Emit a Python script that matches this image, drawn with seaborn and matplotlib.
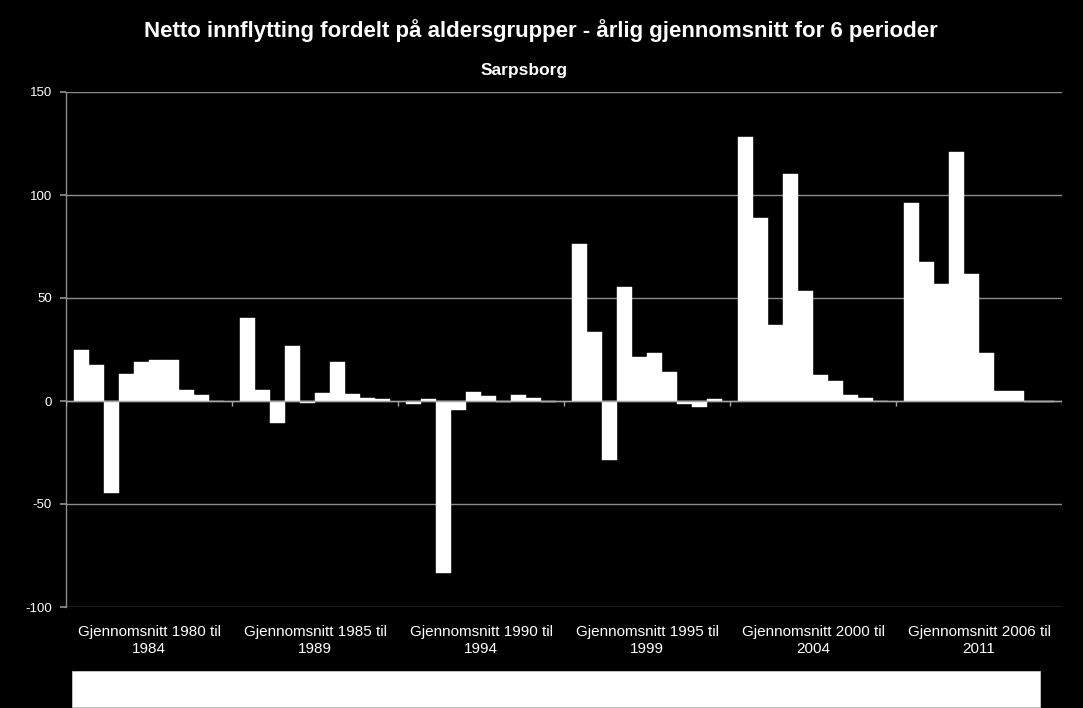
import matplotlib
matplotlib.use("Agg")
import matplotlib.pyplot as plt
from matplotlib.patches import Rectangle
import seaborn as sns
import pandas as pd
import numpy as np

periods = ["Gjennomsnitt 1980 til\n1984", "Gjennomsnitt 1985 til\n1989",
           "Gjennomsnitt 1990 til\n1994", "Gjennomsnitt 1995 til\n1999",
           "Gjennomsnitt 2000 til\n2004", "Gjennomsnitt 2006 til\n2011"]
age_groups = ["0-5 år", "6-15 år", "16-19 år", "20-24 år", "25-29 år",
              "30-39 år", "40-49 år", "50-59 år", "60-69 år", "70 år +"]

v_1980 = [25.0, 17.6, -44.7, 12.9, 18.7, 19.8, 19.8, 5.5, 2.7, 0.0]
v_1985 = [40.3, 5.3, -10.7, 26.6, -1.1, 4.0, 19.0, 3.2, 1.6, 0.8]
v_1990 = [-1.6, 0.8, -83.5, -4.5, 4.4, 2.3, -0.5, 2.7, 1.6, -0.5]
v_1995 = [76.0, 33.5, -28.6, 55.3, 21.6, 23.2, 14.2, -1.6, -2.7, 0.8]
v_2000 = [128.2, 88.7, 37.1, 110.3, 53.4, 12.7, 9.8, 3.1, 1.6, 0.0]
v_2006 = [96.0, 67.7, 56.8, 121.1, 61.6, 23.5, 4.7, 5.0, -0.5, -0.5]

yticks = [-100, -50, 0, 50, 100, 150]

series = [v_1980, v_1985, v_1990, v_1995, v_2000, v_2006]
rows = []
for p, vals in zip(periods, series):
    for a, v in zip(age_groups, vals):
        rows.append({"periode": p, "alder": a, "netto": v})
df = pd.DataFrame(rows)

sns.set_theme(style="dark")
plt.rcParams["font.family"] = ["Liberation Sans", "DejaVu Sans"]

fig = plt.figure(figsize=(10.83, 7.08), dpi=100, facecolor="black")
ax = fig.add_axes([66 / 1083, 1 - 607 / 708, (1062 - 66) / 1083, (607 - 92) / 708])
ax.set_facecolor("black")

sns.barplot(data=df, x="periode", y="netto", hue="alder", order=periods,
            hue_order=age_groups, palette=["white"] * len(age_groups),
            width=10 / 11, gap=0, saturation=1, legend=False, ax=ax,
            edgecolor="white", linewidth=0.3)

ax.set_ylim(-100, 150)
ax.set_yticks(yticks)
ax.set_yticklabels([str(t) for t in yticks], color="white", fontsize=9.5)
ax.set_xlim(-0.5, len(periods) - 0.5)
ax.set_xticks(range(len(periods)))
ax.set_xticklabels(periods, color="white", fontsize=11, linespacing=1.25)
ax.tick_params(axis="x", length=0, pad=13)
ax.tick_params(axis="y", length=4, color="#8c8c8c", direction="out", pad=6, left=True)
ax.set_xlabel("")
ax.set_ylabel("")

ax.grid(False)
for t in yticks:
    ax.axhline(t, color="#8c8c8c", lw=1, zorder=0)
ax.axhline(0, color="#a6a6a6", lw=1, zorder=3)
bounds = [i + 0.5 for i in range(-1, len(periods))]
ax.vlines(bounds, -2.5, 0, color="#a6a6a6", lw=1, zorder=3)

for s in ["top", "right", "bottom"]:
    ax.spines[s].set_visible(False)
ax.spines["left"].set_color("#8c8c8c")
ax.spines["left"].set_linewidth(1)

fig.text(541 / 1083, 1 - 31 / 708, "Netto innflytting fordelt på aldersgrupper - årlig gjennomsnitt for 6 perioder",
         ha="center", va="center", color="white", fontsize=16, fontweight="bold")
fig.text(524 / 1083, 1 - 70 / 708, "Sarpsborg", ha="center", va="center", color="white",
         fontsize=12.5, fontweight="bold")

fig.add_artist(Rectangle((72 / 1083, 1 - 707 / 708), (1040 - 72) / 1083, 36 / 708,
                         transform=fig.transFigure, facecolor="white", edgecolor="#d9d9d9", lw=0.5))

fig.savefig("out.png", dpi=100, facecolor="black")
